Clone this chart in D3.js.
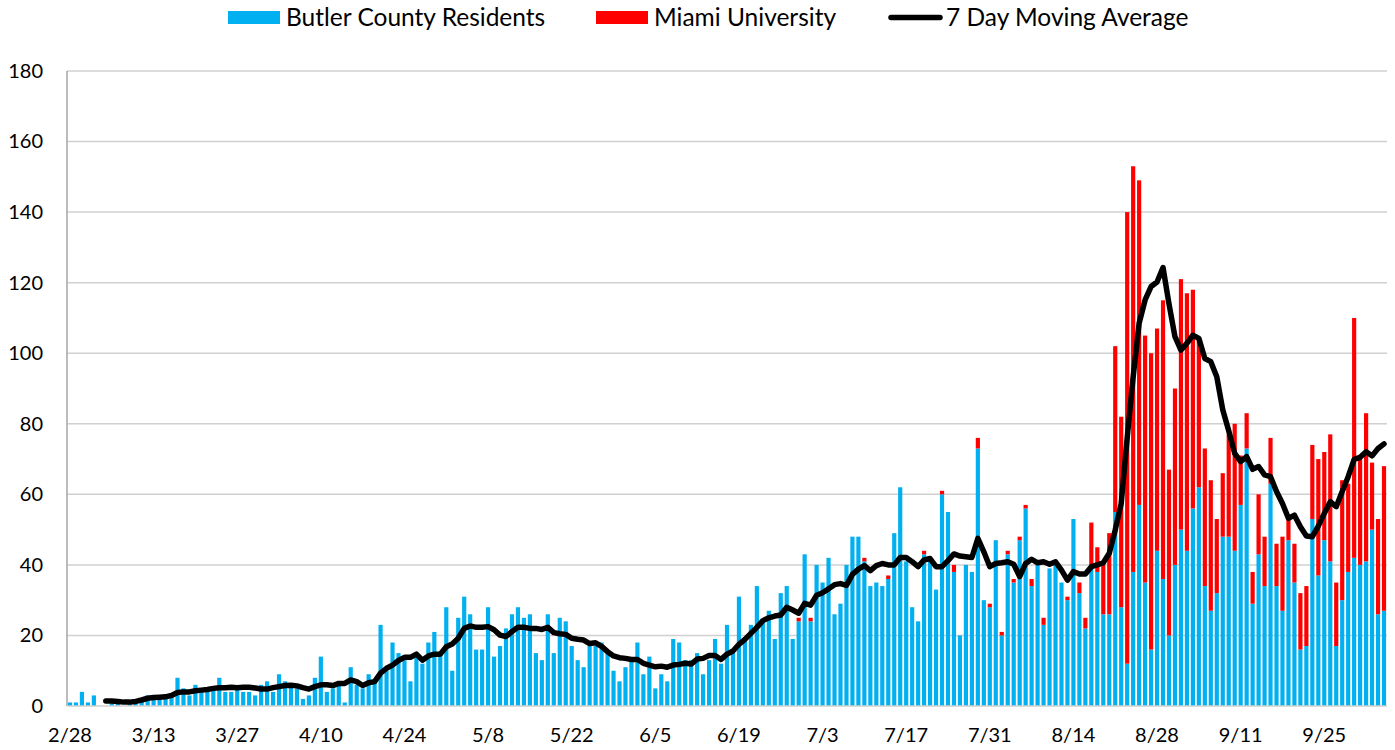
<!DOCTYPE html>
<html>
<head>
<meta charset="utf-8">
<script src="https://cdn.jsdelivr.net/npm/d3@7"></script>
<style>
	body { margin: 0; background: white; }
	text { font-family: Lato, "Open Sans", sans-serif; fill: #000; }
</style>
</head>
<body>
<div id="root"></div>
<script>
//daily values, first day is 2/28, last day is 10/5
const butler = [
	1, 1, 4, 1, 3, 0, 0, 1, 1, 0,
	1, 1, 2, 3, 3, 2, 3, 3, 8, 5,
	3, 6, 4, 5, 5, 8, 4, 4, 5, 4,
	4, 3, 6, 7, 4, 9, 7, 6, 5, 2,
	3, 8, 14, 4, 5, 6, 1, 11, 6, 5,
	9, 7, 23, 10, 18, 15, 13, 7, 14, 12,
	18, 21, 15, 28, 10, 25, 31, 26, 16, 16,
	28, 14, 17, 22, 26, 28, 25, 26, 15, 13,
	26, 15, 25, 24, 17, 13, 11, 17, 17, 18,
	15, 10, 7, 11, 13, 18, 9, 14, 5, 9,
	7, 19, 18, 13, 13, 15, 9, 13, 19, 12,
	23, 15, 31, 19, 23, 34, 24, 27, 19, 32,
	34, 19, 24, 43, 24, 40, 35, 42, 26, 29,
	40, 48, 48, 41, 34, 35, 34, 36, 49, 62,
	41, 28, 24, 43, 42, 33, 60, 55, 38, 20,
	40, 38, 73, 30, 28, 47, 20, 43, 35, 47,
	56, 34, 40, 23, 39, 40, 35, 30, 53, 32,
	22, 39, 38, 26, 26, 55, 28, 12, 38, 57,
	35, 16, 44, 36, 20, 40, 50, 44, 56, 62,
	34, 27, 32, 48, 48, 44, 57, 73, 29, 43,
	34, 63, 34, 27, 47, 35, 16, 17, 53, 37,
	47, 41, 17, 30, 38, 42, 40, 41, 50, 26,
	27
];

const miami = [
	0, 0, 0, 0, 0, 0, 0, 0, 0, 0,
	0, 0, 0, 0, 0, 0, 0, 0, 0, 0,
	0, 0, 0, 0, 0, 0, 0, 0, 0, 0,
	0, 0, 0, 0, 0, 0, 0, 0, 0, 0,
	0, 0, 0, 0, 0, 0, 0, 0, 0, 0,
	0, 0, 0, 0, 0, 0, 0, 0, 0, 0,
	0, 0, 0, 0, 0, 0, 0, 0, 0, 0,
	0, 0, 0, 0, 0, 0, 0, 0, 0, 0,
	0, 0, 0, 0, 0, 0, 0, 0, 0, 0,
	0, 0, 0, 0, 0, 0, 0, 0, 0, 0,
	0, 0, 0, 0, 0, 0, 0, 0, 0, 0,
	0, 0, 0, 0, 0, 0, 0, 0, 0, 0,
	0, 0, 1, 0, 1, 0, 0, 0, 0, 0,
	0, 0, 0, 1, 0, 0, 0, 1, 0, 0,
	0, 0, 0, 1, 0, 0, 1, 0, 2, 0,
	0, 0, 3, 0, 1, 0, 1, 1, 1, 1,
	1, 2, 0, 2, 0, 0, 0, 1, 0, 3,
	3, 13, 7, 14, 23, 47, 54, 128, 115, 92,
	70, 84, 63, 79, 47, 50, 71, 73, 62, 42,
	39, 37, 21, 18, 29, 36, 14, 10, 9, 17,
	14, 13, 12, 21, 6, 11, 16, 17, 21, 33,
	25, 36, 18, 34, 25, 68, 30, 42, 19, 27,
	41
];

//7 day moving average line (starts on the 7th day)
const movingAvg = [
	null, null, null, null, null, null, 1.4, 1.4, 1.3, 1.1,
	1.1, 1.3, 1.7, 2.2, 2.4, 2.5, 2.6, 3.0, 3.8, 4.0,
	4.0, 4.3, 4.5, 4.7, 5.0, 5.2, 5.2, 5.3, 5.2, 5.3,
	5.3, 5.1, 4.8, 4.8, 5.2, 5.5, 5.8, 5.9, 5.7, 5.2,
	4.8, 5.5, 6.0, 6.0, 5.8, 6.4, 6.4, 7.4, 6.9, 5.8,
	6.6, 6.9, 9.3, 10.7, 11.6, 12.9, 13.8, 13.8, 14.7, 13.0,
	14.2, 14.7, 14.7, 16.8, 17.6, 19.2, 22.0, 22.7, 22.3, 22.3,
	22.5, 21.6, 20.1, 19.7, 21.1, 22.3, 22.3, 22.0, 22.0, 21.7,
	22.3, 20.8, 20.5, 20.3, 19.2, 18.9, 18.7, 17.7, 17.9, 16.9,
	15.4, 14.2, 13.7, 13.5, 13.2, 13.2, 12.1, 11.6, 11.1, 11.3,
	11.0, 11.6, 11.8, 12.1, 11.9, 13.3, 13.5, 14.3, 14.3, 13.2,
	14.7, 15.6, 17.5, 18.9, 20.6, 22.3, 24.2, 25.0, 25.5, 25.8,
	28.0, 27.2, 26.3, 29.1, 28.6, 31.4, 32.1, 33.2, 34.4, 34.7,
	34.2, 37.3, 38.8, 39.8, 38.4, 39.8, 40.4, 40.0, 40.0, 42.1,
	42.1, 40.9, 39.5, 41.4, 41.8, 39.5, 39.5, 41.2, 43.1, 42.5,
	42.3, 42.1, 47.5, 43.7, 39.5, 40.4, 40.6, 40.9, 40.2, 36.7,
	40.4, 41.6, 40.6, 40.9, 40.2, 40.9, 38.5, 35.7, 38.1, 37.4,
	37.4, 39.5, 40.0, 40.6, 43.3, 49.9, 57.4, 76.0, 93.3, 108.5,
	115.1, 118.9, 120.2, 124.3, 114.0, 104.7, 100.9, 102.8, 105.1, 104.2,
	98.5, 97.6, 93.3, 84.0, 78.0, 71.6, 69.3, 70.7, 67.1, 67.9,
	65.5, 65.0, 60.8, 57.4, 53.2, 54.1, 50.8, 48.2, 48.0, 51.0,
	54.6, 57.9, 56.5, 60.8, 65.0, 69.9, 70.5, 72.1, 70.9, 73.0,
	74.3
];

//x axis labels shown every two weeks
const tickLabels = ["2/28", "3/13", "3/27", "4/10", "4/24", "5/8", "5/22", "6/5",
	"6/19", "7/3", "7/17", "7/31", "8/14", "8/28", "9/11", "9/25"];

const yTicks = [0, 20, 40, 60, 80, 100, 120, 140, 160, 180];

const seriesNames = ["Butler County Residents", "Miami University", "7 Day Moving Average"];
const seriesColors = ["#00b0f0", "#ff0000", "#000000"];

//dimensions of svg canvas and plot area
const width = 1395;
const height = 750;
const plotLeft = 67, plotRight = 1387, plotTop = 71, plotBottom = 706;

//one category per day
const fmt = d3.timeFormat("%-m/%-d");
const days = d3.timeDay.range(new Date(2020, 1, 28), new Date(2020, 9, 6)).map(fmt);

const table = days.map((d, i) => ({ day: d, butler: butler[i], miami: miami[i] }));

const svg = d3.select("#root")
	.append("svg")
	.attr("width", width)
	.attr("height", height)
	.style("background-color", "white");

const xScale = d3.scaleBand()
	.domain(days)
	.range([plotLeft, plotRight])
	.paddingInner(0.3)
	.paddingOuter(0.15);

const yScale = d3.scaleLinear()
	.domain([0, 180])
	.range([plotBottom, plotTop]);

//horizontal gridlines
svg.append("g")
	.selectAll("line")
	.data(yTicks.filter(t => t > 0))
	.enter()
	.append("line")
	.attr("x1", plotLeft)
	.attr("x2", plotRight)
	.attr("y1", d => yScale(d))
	.attr("y2", d => yScale(d))
	.attr("stroke", "#d0d0d0")
	.attr("stroke-width", 1.5);

//y axis labels
const yAxis = d3.axisLeft(yScale).tickValues(yTicks).tickSize(0).tickPadding(24);
svg.append("g")
	.attr("transform", "translate(" + plotLeft + ",0)")
	.call(yAxis)
	.call(g => g.select(".domain").remove())
	.selectAll("text")
	.style("font-size", "20px")
	.attr("fill", "#000");

//stacked bars
const stack = d3.stack().keys(["butler", "miami"]);
const layers = stack(table);

svg.append("g")
	.selectAll("g")
	.data(layers)
	.enter()
	.append("g")
	.attr("fill", (d, i) => seriesColors[i])
	.selectAll("rect")
	.data(d => d)
	.enter()
	.append("rect")
	.attr("x", d => xScale(d.data.day))
	.attr("width", xScale.bandwidth())
	.attr("y", d => yScale(d[1]))
	.attr("height", d => yScale(d[0]) - yScale(d[1]));

//axis lines
svg.append("line")
	.attr("x1", plotLeft).attr("x2", plotLeft)
	.attr("y1", plotTop).attr("y2", plotBottom)
	.attr("stroke", "#a6a6a6")
	.attr("stroke-width", 1.5);

svg.append("line")
	.attr("x1", plotLeft).attr("x2", plotRight)
	.attr("y1", plotBottom).attr("y2", plotBottom)
	.attr("stroke", "#d0d0d0")
	.attr("stroke-width", 1.5);

//x axis labels
const xAxis = d3.axisBottom(xScale).tickValues(tickLabels).tickSize(0).tickPadding(22);
svg.append("g")
	.attr("transform", "translate(0," + plotBottom + ")")
	.call(xAxis)
	.call(g => g.select(".domain").remove())
	.selectAll("text")
	.style("font-size", "20px")
	.attr("fill", "#000");

//moving average line
const line = d3.line()
	.defined(d => d != null)
	.x((d, i) => xScale(days[i]) + xScale.bandwidth() / 2)
	.y(d => yScale(d));

svg.append("path")
	.datum(movingAvg)
	.attr("d", line)
	.attr("fill", "none")
	.attr("stroke", "#000")
	.attr("stroke-width", 5.5)
	.attr("stroke-linejoin", "round")
	.attr("stroke-linecap", "round");

//legend
const legend = svg.append("g");

legend.append("rect")
	.attr("x", 228).attr("y", 11)
	.attr("width", 52).attr("height", 13)
	.attr("fill", seriesColors[0]);

legend.append("rect")
	.attr("x", 596).attr("y", 11)
	.attr("width", 52).attr("height", 13)
	.attr("fill", seriesColors[1]);

legend.append("line")
	.attr("x1", 891).attr("x2", 940)
	.attr("y1", 17.5).attr("y2", 17.5)
	.attr("stroke", "#000")
	.attr("stroke-width", 5.5)
	.attr("stroke-linecap", "round");

const legendX = [286, 654, 946];
legend.selectAll("text")
	.data(seriesNames)
	.enter()
	.append("text")
	.attr("x", (d, i) => legendX[i])
	.attr("y", 26)
	.style("font-size", "24.5px")
	.text(d => d);
</script>
</body>
</html>
